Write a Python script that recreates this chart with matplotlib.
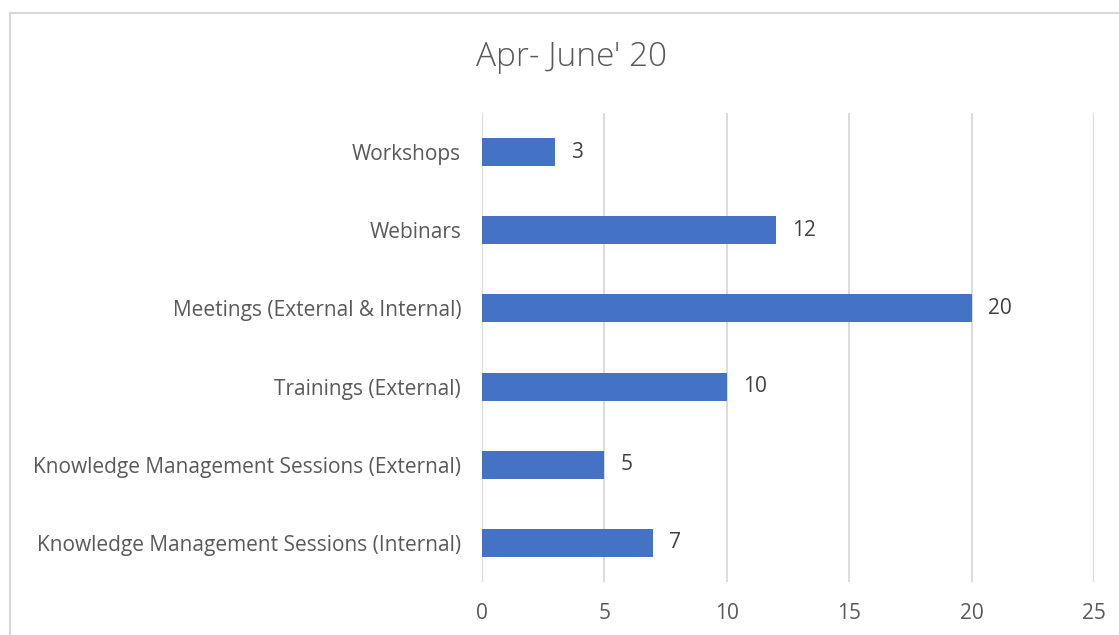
import matplotlib.pyplot as plt
from matplotlib.patches import Rectangle

# datos
categorias = ['Knowledge Management Sessions (Internal)',
              'Knowledge Management Sessions (External)',
              'Trainings (External)',
              'Meetings (External & Internal)',
              'Webinars',
              'Workshops']
valores = [7, 5, 10, 20, 12, 3]
ticks_x = [0, 5, 10, 15, 20, 25]
titulo = "Apr- June' 20"

plt.rcParams['font.family'] = ['Open Sans', 'DejaVu Sans']
gris = '#595959'
azul = '#4472C4'

W, H = 1119, 635
fig = plt.figure(figsize=(W / 100, H / 100), dpi=100)
ax = fig.add_axes([482 / W, 53 / H, (1094 - 482) / W, (582 - 113) / H])

# borde del grafico
fig.patches.append(Rectangle((10 / W, -0.05), 1.2, (635 - 13) / H + 0.05,
                             transform=fig.transFigure, fill=False,
                             edgecolor='#D9D9D9', linewidth=1.5))

y = list(range(len(categorias)))
ax.barh(y, valores, height=0.36, color=azul, zorder=3)
for yi, v in zip(y, valores):
    ax.text(v + 0.65, yi, str(v), va='center', ha='left', fontsize=15, color='#404040')

ax.set_xlim(0, 25)
ax.set_ylim(-0.5, len(categorias) - 0.5)
ax.set_xticks(ticks_x)
ax.set_yticks(y)
ax.set_yticklabels(categorias)
ax.tick_params(axis='both', length=0, labelsize=15, colors=gris)
ax.tick_params(axis='x', pad=15)
ax.tick_params(axis='y', pad=15)
ax.grid(axis='x', color='#D9D9D9', linewidth=1.3, zorder=0)
for s in ax.spines.values():
    s.set_visible(False)

fig.text(571 / W, 1 - 57 / H, titulo, ha='center', va='center', fontsize=24,
         color=gris, fontweight='light')

fig.savefig('out.png', dpi=100)
